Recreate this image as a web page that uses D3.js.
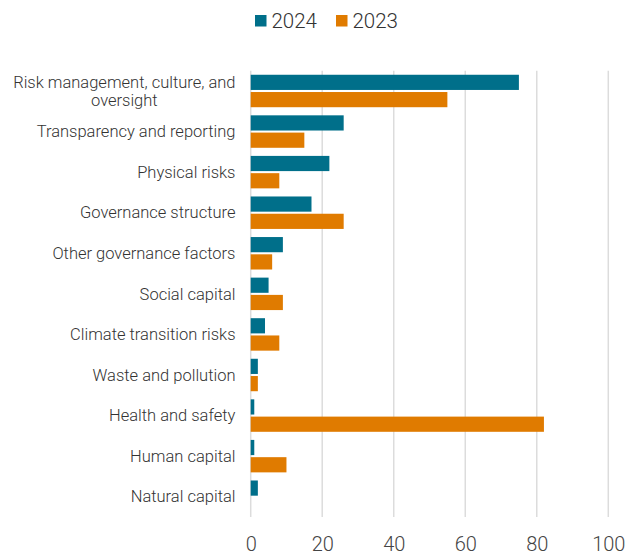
<!DOCTYPE html>
<html>
<head>
<meta charset="utf-8">
<script src="https://cdn.jsdelivr.net/npm/d3@7"></script>
<style>
  body { margin: 0; background: #fff; }
  svg { display: block; }
  text { font-family: Roboto, "Open Sans", sans-serif; font-weight: 300; }
</style>
</head>
<body>
<svg id="chart" width="626" height="556"></svg>
<script>
const categories = [
  ["Risk management, culture, and", "oversight"],
  ["Transparency and reporting"],
  ["Physical risks"],
  ["Governance structure"],
  ["Other governance factors"],
  ["Social capital"],
  ["Climate transition risks"],
  ["Waste and pollution"],
  ["Health and safety"],
  ["Human capital"],
  ["Natural capital"]
];
const seriesNames = ["2024", "2023"];
const values2024 = [75, 26, 22, 17, 9, 5, 4, 2, 1, 1, 2];
const values2023 = [55, 15, 8, 26, 6, 9, 8, 2, 82, 10, 0];
const tickValues = [0, 20, 40, 60, 80, 100];
const colors = ["#006f8a", "#e07b00"];

const data = categories.map((c, i) => ({ key: c.join(" "), lines: c, vals: [values2024[i], values2023[i]] }));

const svg = d3.select("#chart");
const x = d3.scaleLinear().domain([0, 100]).range([250.7, 608.3]);
const y = d3.scaleBand().domain(data.map(d => d.key)).range([70.7, 517]).paddingInner(0.2).paddingOuter(0.1);
const ySub = d3.scaleBand().domain(seriesNames).range([0, y.bandwidth()]).paddingInner(0.12);

// gridlines
svg.append("g").selectAll("line").data(tickValues).join("line")
  .attr("x1", d => x(d)).attr("x2", d => x(d))
  .attr("y1", 70.7).attr("y2", 517)
  .attr("stroke", "#dcdcdc").attr("stroke-width", 1.5);

// x axis labels
const xAxis = d3.axisBottom(x).tickValues(tickValues).tickSize(0).tickPadding(0);
const gx = svg.append("g").attr("transform", "translate(0,537)").call(xAxis);
gx.select(".domain").remove();
gx.selectAll("text").attr("font-size", 20).attr("fill", "#444")
  .style("font-family", "Roboto, sans-serif").style("font-weight", 300);

// bars
const groups = svg.append("g").selectAll("g").data(data).join("g")
  .attr("transform", d => `translate(0,${y(d.key)})`);
groups.selectAll("rect").data(d => d.vals.map((v, i) => ({ v, s: seriesNames[i], i })))
  .join("rect")
  .attr("x", x(0))
  .attr("y", d => ySub(d.s))
  .attr("width", d => x(d.v) - x(0))
  .attr("height", ySub.bandwidth())
  .attr("fill", d => colors[d.i]);

// category labels
const lab = svg.append("g").selectAll("text").data(data).join("text")
  .attr("text-anchor", "middle")
  .attr("font-size", 16.5)
  .attr("fill", "#333");
lab.each(function(d) {
  const t = d3.select(this);
  const cy = y(d.key) + y.bandwidth() / 2;
  const n = d.lines.length;
  d.lines.forEach((ln, j) => {
    t.append("tspan").attr("x", 0).attr("y", cy + (j - (n - 1) / 2) * 18).attr("dy", "0.35em").text(ln);
  });
});
lab.each(function() {
  const bb = this.getBBox();
  d3.select(this).selectAll("tspan").attr("x", 235.5 - bb.width / 2);
});

// legend
const leg = svg.append("g");
const legX = [255, 336];
seriesNames.forEach((s, i) => {
  leg.append("rect").attr("x", legX[i]).attr("y", 15).attr("width", 11.5).attr("height", 11.5).attr("fill", colors[i]);
  leg.append("text").attr("x", legX[i] + 16.5).attr("y", 20.5).attr("dy", "0.35em")
    .attr("font-size", 20.5).attr("fill", "#333").text(s);
});
</script>
</body>
</html>
